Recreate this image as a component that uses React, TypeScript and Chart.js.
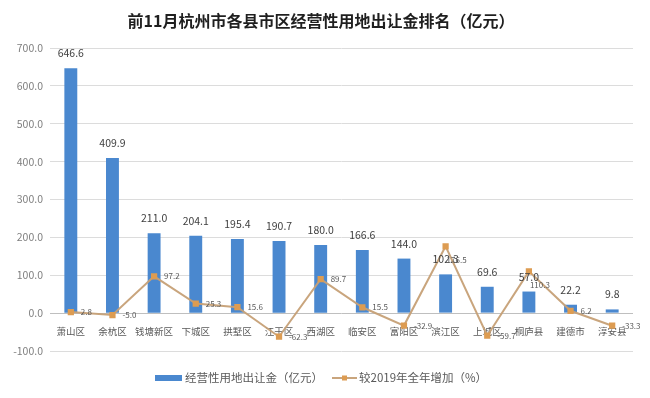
import React, { useEffect, useRef } from "react";
import { Chart, registerables } from "chart.js";

Chart.register(...registerables);

const titleText = "前11月杭州市各县市区经营性用地出让金排名（亿元）";
const categories = ["萧山区", "余杭区", "钱塘新区", "下城区", "拱墅区", "江干区", "西湖区", "临安区", "富阳区", "滨江区", "上城区", "桐庐县", "建德市", "淳安县"];
const landFees = [646.6, 409.9, 211.0, 204.1, 195.4, 190.7, 180.0, 166.6, 144.0, 102.3, 69.6, 57.0, 22.2, 9.8];
const growthPct = [2.8, -5.0, 97.2, 25.3, 15.6, -62.3, 89.7, 15.5, -32.9, 176.5, -59.7, 110.3, 6.2, -33.3];
const barLabel = "经营性用地出让金（亿元）";
const lineLabel = "较2019年全年增加（%）";
const yMin = -100;
const yMax = 700;
const yStep = 100;

const FONT = "'Noto Sans CJK SC', 'Noto Sans', sans-serif";
const BAR_COLOR = "#4a88cf";
const LINE_COLOR = "rgba(198,160,118,0.95)";
const POINT_COLOR = "#dd9c52";

const labelPlugin = {
  id: "customLabels",
  afterDatasetsDraw(chart: any) {
    const ctx = chart.ctx;
    ctx.save();
    const barMeta = chart.getDatasetMeta(0);
    ctx.font = `10.5px ${FONT}`;
    ctx.fillStyle = "#404040";
    ctx.textAlign = "center";
    ctx.textBaseline = "middle";
    barMeta.data.forEach((el: any, i: number) => {
      ctx.fillText(landFees[i].toFixed(1), el.x, el.y - 15);
    });
    const lineMeta = chart.getDatasetMeta(1);
    ctx.font = `8px ${FONT}`;
    ctx.fillStyle = "#595959";
    ctx.textAlign = "left";
    lineMeta.data.forEach((el: any, i: number) => {
      const above = growthPct[i] > landFees[i];
      const x = above ? el.x + 1 : el.x + 10;
      const y = above ? el.y + 14 : el.y;
      ctx.fillText(growthPct[i].toFixed(1), x, y);
    });
    ctx.restore();
  },
  afterDraw(chart: any) {
    const ctx = chart.ctx;
    ctx.save();
    ctx.font = `bold 16px ${FONT}`;
    ctx.fillStyle = "#1f1f1f";
    ctx.textAlign = "center";
    ctx.textBaseline = "middle";
    ctx.fillText(titleText, 321, 21);
    const ly = 378;
    ctx.fillStyle = BAR_COLOR;
    ctx.fillRect(155, ly - 3, 27, 6);
    ctx.font = `11.5px ${FONT}`;
    ctx.fillStyle = "#595959";
    ctx.textAlign = "left";
    ctx.fillText(barLabel, 185, ly);
    ctx.strokeStyle = LINE_COLOR;
    ctx.lineWidth = 2;
    ctx.beginPath();
    ctx.moveTo(332, ly);
    ctx.lineTo(357, ly);
    ctx.stroke();
    ctx.fillStyle = POINT_COLOR;
    ctx.fillRect(342, ly - 2.5, 5, 5);
    ctx.fillStyle = "#595959";
    ctx.fillText(lineLabel, 359, ly);
    ctx.restore();
  },
};

export default function App() {
  const ref = useRef<HTMLCanvasElement | null>(null);
  useEffect(() => {
    document.body.style.margin = "0";
    const canvas = ref.current;
    if (!canvas) return;
    const chart = new Chart(canvas, {
      type: "bar",
      data: {
        labels: categories,
        datasets: [
          {
            type: "bar",
            label: barLabel,
            data: landFees,
            backgroundColor: BAR_COLOR,
            barPercentage: 0.31,
            categoryPercentage: 1,
            order: 1,
          },
          {
            type: "line",
            label: lineLabel,
            data: growthPct,
            borderColor: LINE_COLOR,
            borderWidth: 2,
            pointStyle: "rect",
            pointRadius: 3,
            pointBackgroundColor: POINT_COLOR,
            pointBorderColor: POINT_COLOR,
            tension: 0,
            order: 0,
          } as any,
        ],
      },
      options: {
        responsive: false,
        animation: false,
        devicePixelRatio: 1,
        layout: { padding: { top: 48, bottom: 47, left: 0, right: 17 } },
        plugins: {
          legend: { display: false },
          title: { display: false },
          tooltip: { enabled: false },
        },
        scales: {
          x: {
            position: { y: 0 } as any,
            grid: { display: false },
            border: { display: false },
            ticks: {
              color: "#595959",
              font: { size: 9.5, family: FONT },
              padding: 5,
              maxRotation: 0,
              autoSkip: false,
            },
          },
          y: {
            min: yMin,
            max: yMax,
            afterFit: (scale: any) => {
              scale.width = 50;
            },
            ticks: {
              stepSize: yStep,
              color: "#7f7f7f",
              font: { size: 10.5, family: FONT },
              padding: 7,
              callback: (v: any) => Number(v).toFixed(1),
            },
            grid: {
              drawTicks: false,
              color: (c: any) => (c.tick && c.tick.value === 0 ? "#bfbfbf" : "#dcdcdc"),
              lineWidth: 1,
            },
            border: { display: false },
          },
        },
      },
      plugins: [labelPlugin],
    });
    return () => chart.destroy();
  }, []);
  return (
    <div style={{ width: 650, height: 398, background: "#fff" }}>
      <canvas ref={ref} width={650} height={398} />
    </div>
  );
}
